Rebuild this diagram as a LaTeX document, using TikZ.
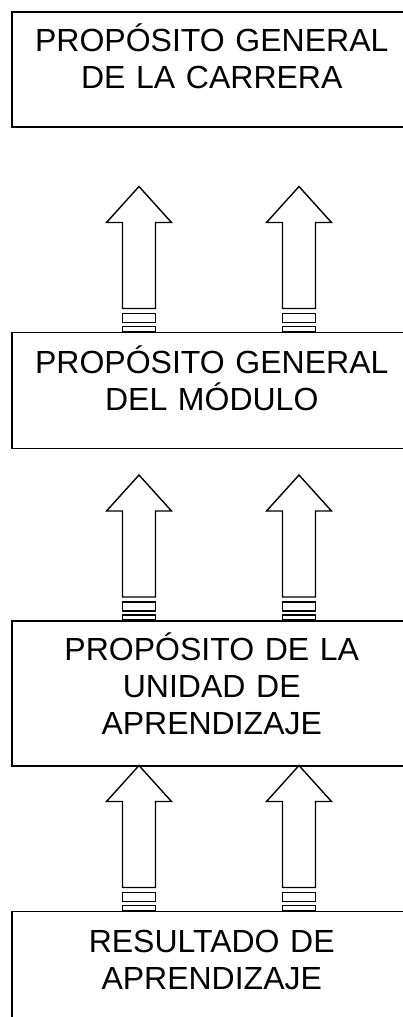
\documentclass[tikz,border=0pt]{standalone}
\usepackage{fontspec}
\setmainfont{Liberation Sans}
\usetikzlibrary{positioning}

\begin{document}
\begin{tikzpicture}[x=1pt,y=-1pt,
    caja/.style={draw, line width=1.5pt, fill=white, minimum width=400pt, inner sep=0pt},
    texto/.style={anchor=base, text width=390pt, align=center, inner sep=0pt,
        font=\fontsize{32}{37}\selectfont},
    flecha/.style={draw, line width=1.4pt, fill=white, line join=miter}]
    \useasboundingbox (0,0) rectangle (403,1017);
    % cajas
    \node[caja, anchor=north west, minimum height=115pt] (carrera) at (11,11) {};
    \node[caja, minimum height=116pt, below=204pt of carrera] (modulo) {};
    \node[caja, minimum height=145pt, below=171pt of modulo] (unidad) {};
    \node[caja, minimum height=150pt, below=144pt of unidad] (resultado) {};
    \node[texto] (tcarrera) at ([yshift=-40pt]carrera.north) {PROPÓSITO GENERAL\\DE LA CARRERA};
    \node[texto] (tmodulo) at ([yshift=-42pt]modulo.north) {PROPÓSITO GENERAL\\DEL MÓDULO};
    \node[texto] (tunidad) at ([yshift=-40pt]unidad.north) {PROPÓSITO DE LA\\UNIDAD DE\\APRENDIZAJE};
    \node[texto] (tresultado) at ([yshift=-42pt]resultado.north) {RESULTADO DE\\APRENDIZAJE};
    % flechas rayadas
    \foreach \caja in {modulo,unidad,resultado}
        \foreach \cx in {128,288} {
            \begin{scope}[shift={(\caja.north west)}]
                \draw[flecha] (\cx,-145) -- (\cx+32.5,-109) -- (\cx+16.5,-109) -- (\cx+16.5,-23)
                    -- (\cx-16.5,-23) -- (\cx-16.5,-109) -- (\cx-32.5,-109) -- cycle;
                \draw[flecha] (\cx-16.5,-18) rectangle (\cx+16.5,-9);
                \draw[flecha] (\cx-16.5,-5) rectangle (\cx+16.5,0);
            \end{scope}
        }
\end{tikzpicture}
\end{document}
